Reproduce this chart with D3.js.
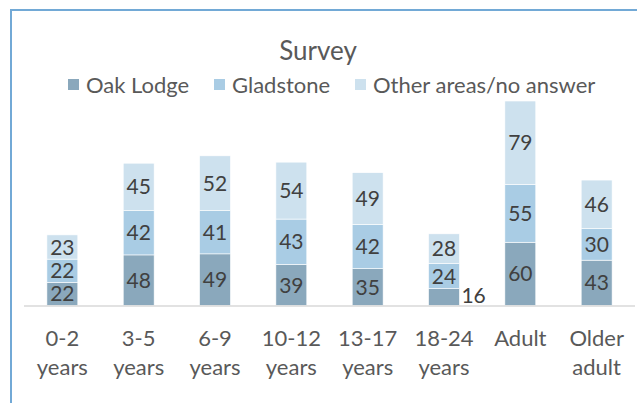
<!DOCTYPE html>
<html>
<head>
<meta charset="utf-8">
<script src="https://cdn.jsdelivr.net/npm/d3@7"></script>
<style>
	body { margin: 0; background: #fff; }
	svg { display: block; font-family: Lato, "Open Sans", sans-serif; }
</style>
</head>
<body>
<svg id="chart" width="637" height="403"></svg>
<script>
(function(){

	// data
	const categories = ["0-2 years", "3-5 years", "6-9 years", "10-12 years", "13-17 years", "18-24 years", "Adult", "Older adult"];
	const tickLines = [["0-2", "years"], ["3-5", "years"], ["6-9", "years"], ["10-12", "years"], ["13-17", "years"], ["18-24", "years"], ["Adult"], ["Older", "adult"]];
	const seriesNames = ["Oak Lodge", "Gladstone", "Other areas/no answer"];
	const oakLodge = [22, 48, 49, 39, 35, 16, 60, 43];
	const gladstone = [22, 42, 41, 43, 42, 24, 55, 30];
	const otherAreas = [23, 45, 52, 54, 49, 28, 79, 46];

	const colors = ["#8aa8bc", "#a9cce4", "#cde1ee"];
	const labelColor = "#404040";
	const axisTextColor = "#595959";

	const svg = d3.select("#chart");

	// outer frame (only the left and top edges show in the picture)
	svg.append("path")
		.attr("d", "M11,403 V10 H637")
		.attr("fill", "none")
		.attr("stroke", "#72a9d6")
		.attr("stroke-width", 2);

	// build rows for the stack
	const rows = categories.map(function(c, i) {
		return { cat: c, s0: oakLodge[i], s1: gladstone[i], s2: otherAreas[i] };
	});
	const stack = d3.stack().keys(["s0", "s1", "s2"]);
	const layers = stack(rows);

	const x = d3.scaleBand()
		.domain(categories)
		.range([24, 635])
		.paddingInner(0.595)
		.paddingOuter(0.3);

	const baseY = 305.5;
	const y = d3.scaleLinear()
		.domain([0, 200])
		.range([baseY, baseY - 200 * 1.054]);

	// bars
	const layerG = svg.selectAll("g.layer")
		.data(layers)
		.enter().append("g")
		.attr("class", "layer")
		.attr("fill", function(d, i) { return colors[i]; });

	layerG.selectAll("rect")
		.data(function(d) { return d; })
		.enter().append("rect")
		.attr("x", function(d) { return x(d.data.cat); })
		.attr("width", x.bandwidth())
		.attr("y", function(d) { return y(d[1]); })
		.attr("height", function(d) { return y(d[0]) - y(d[1]); })
		.attr("stroke", "#fff")
		.attr("stroke-width", 0.6);

	// axis line
	svg.append("line")
		.attr("x1", 24).attr("x2", 635)
		.attr("y1", baseY + 0.5).attr("y2", baseY + 0.5)
		.attr("stroke", "#d9d9d9")
		.attr("stroke-width", 1.5);

	// data labels
	layerG.selectAll("text")
		.data(function(d) { return d; })
		.enter().append("text")
		.attr("font-size", 21)
		.attr("fill", labelColor)
		.attr("dy", "0.36em")
		.each(function(d) {
			const h = y(d[0]) - y(d[1]);
			const t = d3.select(this);
			const v = d[1] - d[0];
			t.text(v);
			if (h < 20) {
				// too small: label sits to the right of the bar
				t.attr("x", x(d.data.cat) + x.bandwidth() + 2)
					.attr("y", y(d[0]) - 10)
					.attr("text-anchor", "start");
			} else {
				t.attr("x", x(d.data.cat) + x.bandwidth() / 2)
					.attr("y", (y(d[0]) + y(d[1])) / 2)
					.attr("text-anchor", "middle");
			}
		});

	// category labels
	const tickG = svg.selectAll("g.tick")
		.data(categories)
		.enter().append("g")
		.attr("class", "tick")
		.attr("transform", function(d) { return "translate(" + (x(d) + x.bandwidth() / 2) + ",0)"; });

	tickG.selectAll("text")
		.data(function(d, i) { return tickLines[i]; })
		.enter().append("text")
		.attr("y", function(d, j) { return 338 + j * 29; })
		.attr("dy", "0.36em")
		.attr("text-anchor", "middle")
		.attr("font-size", 22)
		.attr("fill", axisTextColor)
		.text(function(d) { return d; });

	// title
	svg.append("text")
		.attr("x", 318)
		.attr("y", 51)
		.attr("dy", "0.36em")
		.attr("text-anchor", "middle")
		.attr("font-size", 26)
		.attr("fill", axisTextColor)
		.text("Survey");

	// legend
	const legendX = [68, 214, 355];
	const legend = svg.selectAll("g.legend")
		.data(seriesNames)
		.enter().append("g")
		.attr("class", "legend")
		.attr("transform", function(d, i) { return "translate(" + legendX[i] + ",79)"; });

	legend.append("rect")
		.attr("width", 11).attr("height", 11)
		.attr("fill", function(d, i) { return colors[i]; });

	legend.append("text")
		.attr("x", 18)
		.attr("y", 6)
		.attr("dy", "0.36em")
		.attr("font-size", 22)
		.attr("fill", axisTextColor)
		.text(function(d) { return d; });

}());
</script>
</body>
</html>
